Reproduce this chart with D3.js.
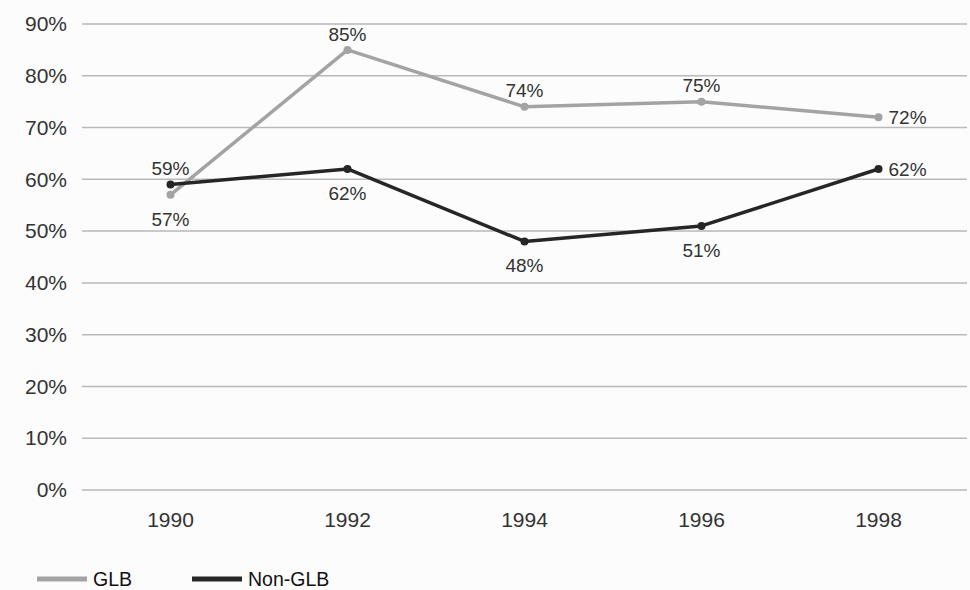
<!DOCTYPE html>
<html>
<head>
<meta charset="utf-8">
<script src="https://cdn.jsdelivr.net/npm/d3@7"></script>
<style>
  html, body { margin: 0; padding: 0; background: #fcfcfc; }
  svg { display: block; font-family: "Liberation Sans", Arial, sans-serif; }
</style>
</head>
<body>
<svg id="chart" width="970" height="590"></svg>
<script>
// Survey years and share of respondents per group
const years = ["1990", "1992", "1994", "1996", "1998"];
const glb = [0.57, 0.85, 0.74, 0.75, 0.72];
const nonGlb = [0.59, 0.62, 0.48, 0.51, 0.62];
// Where each value label sits relative to its point
const glbLabelPos = ["below", "above", "above", "above", "right"];
const nonGlbLabelPos = ["above", "below", "below", "below", "right"];
const yTicks = [0, 0.1, 0.2, 0.3, 0.4, 0.5, 0.6, 0.7, 0.8, 0.9];

const series = [
  { name: "GLB", values: glb, labels: glbLabelPos, color: "#a3a3a3" },
  { name: "Non-GLB", values: nonGlb, labels: nonGlbLabelPos, color: "#262626" }
];

const svg = d3.select("#chart");
const margin = { left: 82, right: 3, top: 24, bottom: 100 };
const W = 970, H = 590;

const x = d3.scaleBand().domain(years).range([margin.left, W - margin.right]);
const y = d3.scaleLinear().domain([0, 0.9]).range([490, 24]);
const pct = d3.format(".0%");
const textColor = "#333";

// Horizontal gridlines
svg.append("g")
  .selectAll("line")
  .data(yTicks)
  .join("line")
  .attr("x1", margin.left)
  .attr("x2", W - margin.right)
  .attr("y1", d => y(d))
  .attr("y2", d => y(d))
  .attr("stroke", "#b9b9b9")
  .attr("stroke-width", 1.5);

// Y axis labels
const yAxis = svg.append("g")
  .attr("transform", `translate(${margin.left - 15},0)`)
  .call(d3.axisLeft(y).tickValues(yTicks).tickFormat(pct).tickSize(0).tickPadding(0));
yAxis.select(".domain").remove();
yAxis.selectAll("text")
  .attr("font-size", 21)
  .attr("fill", textColor)
  .style("font-family", "'Liberation Sans', Arial, sans-serif");

// X axis labels
const xAxis = svg.append("g")
  .attr("transform", `translate(0,${y(0)})`)
  .call(d3.axisBottom(x).tickSize(0).tickPadding(22));
xAxis.select(".domain").remove();
xAxis.selectAll("text")
  .attr("font-size", 21)
  .attr("fill", textColor)
  .attr("dy", "0.35em")
  .attr("y", 30)
  .style("font-family", "'Liberation Sans', Arial, sans-serif");

const cx = (d, i) => x(years[i]) + x.bandwidth() / 2;
const line = d3.line().x(cx).y(d => y(d));

series.forEach(s => {
  const g = svg.append("g");
  g.append("path")
    .datum(s.values)
    .attr("d", line)
    .attr("fill", "none")
    .attr("stroke", s.color)
    .attr("stroke-width", 3.5)
    .attr("stroke-linejoin", "round");
  g.selectAll("circle")
    .data(s.values)
    .join("circle")
    .attr("cx", cx)
    .attr("cy", d => y(d))
    .attr("r", 4)
    .attr("fill", s.color);
  g.selectAll("text")
    .data(s.values)
    .join("text")
    .attr("x", (d, i) => s.labels[i] === "right" ? cx(d, i) + 10 : cx(d, i))
    .attr("y", (d, i) => {
      const p = s.labels[i];
      if (p === "above") return y(d) - 16;
      if (p === "below") return y(d) + 24;
      return y(d);
    })
    .attr("dy", "0.35em")
    .attr("text-anchor", (d, i) => s.labels[i] === "right" ? "start" : "middle")
    .attr("font-size", 19)
    .attr("fill", textColor)
    .text(d => pct(d));
});

// Legend
const legend = svg.append("g").attr("transform", "translate(37,579)");
const legendX = [0, 155];
series.forEach((s, i) => {
  const item = legend.append("g").attr("transform", `translate(${legendX[i]},0)`);
  item.append("line")
    .attr("x1", 0).attr("x2", 50)
    .attr("y1", 0).attr("y2", 0)
    .attr("stroke", s.color)
    .attr("stroke-width", 5);
  item.append("text")
    .attr("x", 56)
    .attr("dy", "0.35em")
    .attr("font-size", 19.5)
    .attr("fill", "#111")
    .text(s.name);
});
</script>
</body>
</html>
